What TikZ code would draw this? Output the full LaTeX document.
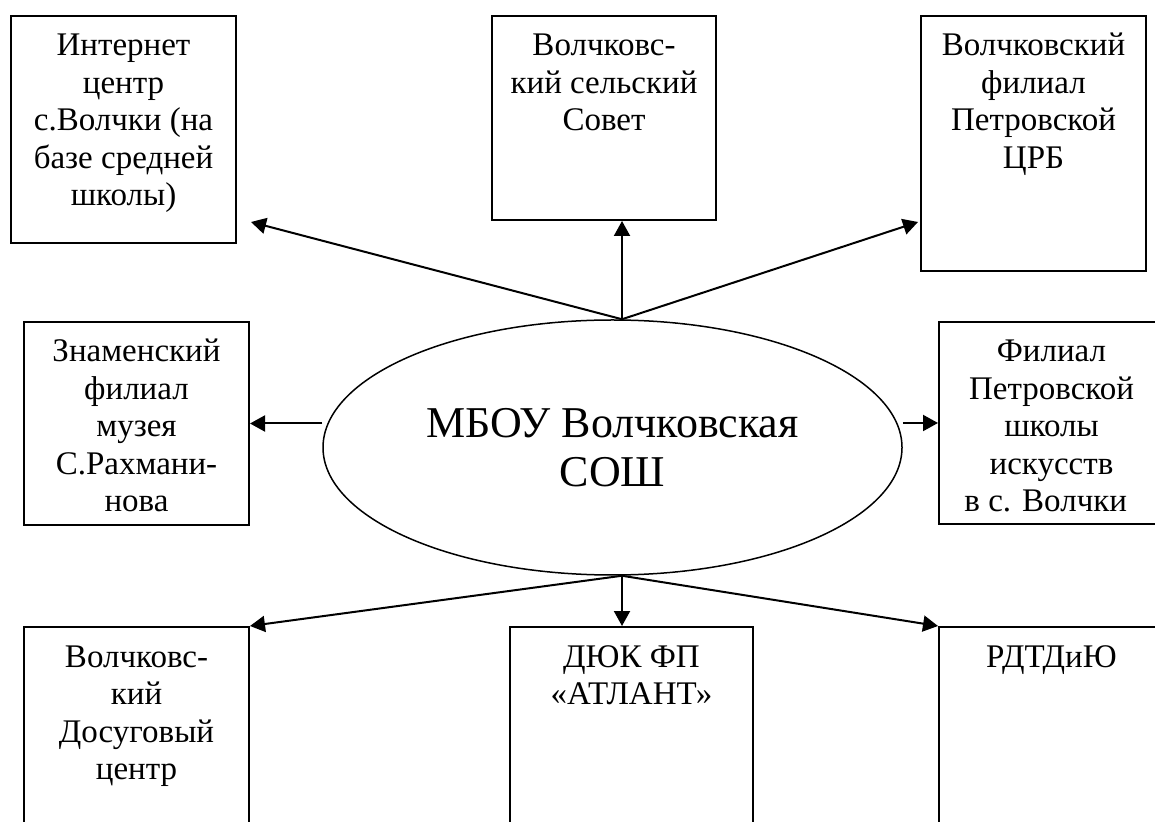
\documentclass[tikz,border=0pt]{standalone}
\usepackage{fontspec}
\setmainfont{Liberation Serif}
\usepackage{tikz}
\usetikzlibrary{shapes.geometric,arrows.meta,calc}
\newcommand{\boxtxt}[3]{\parbox[t][#1][t]{#2}{\centering\rule{0pt}{20pt}#3}}

\begin{document}
\begin{tikzpicture}[x=0.5pt,y=-0.5pt,
        orgbox/.style={draw, line width=1pt, inner sep=0pt, anchor=north west,
            font=\fontsize{16.5pt}{18.75pt}\selectfont},
        school/.style={draw, ellipse, line width=0.75pt, inner sep=0pt, align=center,
            minimum width=289.5pt, minimum height=127.5pt,
            font=\fontsize{22pt}{24.5pt}\selectfont},
        link/.style={-{Triangle[length=7.5pt,width=8pt]}, line width=1pt}]
    \useasboundingbox (0,0) rectangle (1155,822);
    \clip (0,0) rectangle (1155,822);

    \node[school] (sch) at (612.5,447.5) {МБОУ Волчковская\\СОШ};

    \node[orgbox] (inet) at (10,15) {\boxtxt{113.5pt}{112.5pt}{Интернет\\центр\\с.Волчки (на\\базе средней\\школы)}};
    \node[orgbox] (sovet) at (491,15) {\boxtxt{102pt}{112pt}{Волчковс-\\кий сельский\\Совет}};
    \node[orgbox] (crb) at (920,15) {\boxtxt{127.5pt}{112.5pt}{Волчковский\\филиал\\Петровской\\ЦРБ}};
    \node[orgbox] (muz) at (23,321) {\boxtxt{101.5pt}{112.5pt}{Знаменский\\филиал\\музея\\С.Рахмани-\\нова}};
    \node[orgbox] (iskus) at (938,321) {\boxtxt{101pt}{112.5pt}{Филиал\\Петровской\\школы\\искусств\\в с. Волчки\hspace*{0.35em}}};
    \node[orgbox] (dosug) at (23,626) {\boxtxt{120pt}{112.5pt}{Волчковс-\\кий\\Досуговый\\центр}};
    \node[orgbox] (atlant) at (509,626) {\boxtxt{120pt}{121.5pt}{ДЮК ФП\\«АТЛАНТ»}};
    \node[orgbox] (rdtd) at (938,626) {\boxtxt{120pt}{112.5pt}{РДТДиЮ}};

    \coordinate (top) at ($(sch.north)+(9.5,0)$);
    \coordinate (bot) at ($(sch.south)+(9.5,0)$);

    \draw[link] (top) -- ($(inet.south east)+(14,-22)$);
    \draw[link] (top) -- (top |- sovet.south);
    \draw[link] (top) -- ($(crb.south west)+(-2,-50)$);
    \draw[link] (sch.west |- muz.east) -- (muz.east);
    \draw[link] (sch.east |- iskus.west) -- (iskus.west);
    \draw[link] (bot) -- (dosug.north east);
    \draw[link] (bot) -- (bot |- atlant.north);
    \draw[link] (bot) -- (rdtd.north west);
\end{tikzpicture}
\end{document}
